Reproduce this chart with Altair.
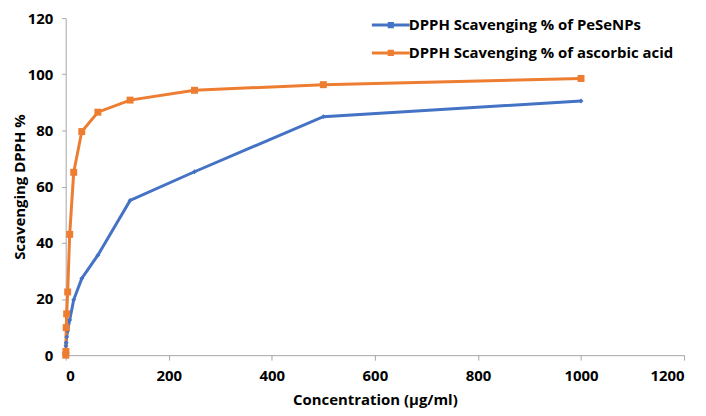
import altair as alt
import pandas as pd

series_names = ["DPPH Scavenging % of PeSeNPs", "DPPH Scavenging % of ascorbic acid"]
series_colors = ["#4472C4", "#ED7D31"]

conc_pesenps = [0.49, 0.98, 1.95, 3.9, 7.81, 15.63, 31.25, 62.5, 125, 250, 500, 1000]
scav_pesenps = [3.3, 4.4, 6.5, 8.7, 12.5, 19.7, 27.3, 35.6, 55.1, 65.3, 84.9, 90.5]

conc_ascorbic = [0.24, 0.49, 0.98, 1.95, 3.9, 7.81, 15.63, 31.25, 62.5, 125, 250, 500, 1000]
scav_ascorbic = [0.0, 1.3, 9.8, 14.7, 22.5, 43.0, 65.1, 79.6, 86.5, 90.8, 94.3, 96.3, 98.5]

x_ticks = [0, 200, 400, 600, 800, 1000, 1200]
y_ticks = [0, 20, 40, 60, 80, 100, 120]

df = pd.concat([
    pd.DataFrame({"conc": conc_pesenps, "scav": scav_pesenps, "series": series_names[0]}),
    pd.DataFrame({"conc": conc_ascorbic, "scav": scav_ascorbic, "series": series_names[1]}),
], ignore_index=True)

FONT = "Open Sans"

x_enc = alt.X("conc:Q", title="Concentration (µg/ml)",
              scale=alt.Scale(domain=[0, 1200], nice=False),
              axis=alt.Axis(values=x_ticks, format="d", tickSize=5, labelPadding=8, titlePadding=10))
y_enc = alt.Y("scav:Q", title="Scavenging DPPH %",
              scale=alt.Scale(domain=[0, 120], nice=False),
              axis=alt.Axis(values=y_ticks, tickSize=4, labelPadding=9, titlePadding=0))

legend = alt.Legend(
    title=None, orient="none", legendX=316, legendY=-4,
    symbolType="M-2,0H2M-0.17,-0.17H0.17V0.17H-0.17Z",
    symbolSize=361, symbolStrokeWidth=3,
    labelFont=FONT, labelFontSize=15, labelFontWeight="bold", labelColor="black",
    labelOffset=7, rowPadding=9, labelLimit=500,
)

lines = alt.Chart(df).mark_line(strokeWidth=3).encode(
    x=x_enc, y=y_enc,
    color=alt.Color("series:N", scale=alt.Scale(domain=series_names, range=series_colors), legend=legend),
    order="conc:Q",
)

pts_blue = alt.Chart(df).transform_filter(alt.datum.series == series_names[0]).mark_point(
    shape="diamond", filled=True, size=24, color=series_colors[0], opacity=1
).encode(x=x_enc, y=y_enc)

pts_orange = alt.Chart(df).transform_filter(alt.datum.series == series_names[1]).mark_point(
    shape="square", filled=True, size=49, color=series_colors[1], opacity=1
).encode(x=x_enc, y=y_enc)

chart = alt.layer(lines, pts_blue, pts_orange).properties(
    width=622, height=339,
    autosize=alt.AutoSizeParams(type="none"),
    padding={"left": 58, "top": 9, "right": 14, "bottom": 52},
).configure_view(stroke=None).configure_axis(
    grid=False, domainColor="#A6A6A6", tickColor="#A6A6A6", domainWidth=1,
    labelFont=FONT, labelFontSize=15, labelFontWeight="bold", labelColor="black",
    titleFont=FONT, titleFontSize=15, titleFontWeight="bold", titleColor="black",
)

chart.save("out.html", embed_options={"renderer": "svg", "actions": False})
